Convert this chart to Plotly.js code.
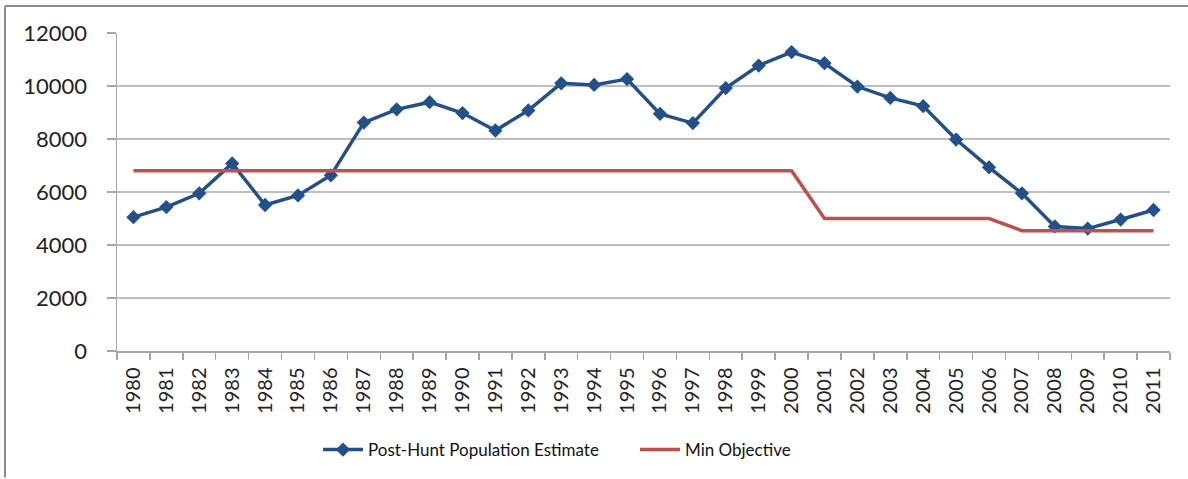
<!DOCTYPE html>
<html>
<head>
<meta charset="utf-8">
<script src="https://cdn.plot.ly/plotly-3.0.1.min.js"></script>
<style>
html,body{margin:0;padding:0;background:#fff;}
#chart{width:1188px;height:479px;}
</style>
</head>
<body>
<div id="chart"></div>
<script>
var years = ["1980","1981","1982","1983","1984","1985","1986","1987","1988","1989","1990","1991","1992","1993","1994","1995","1996","1997","1998","1999","2000","2001","2002","2003","2004","2005","2006","2007","2008","2009","2010","2011"];
var postHuntEstimate = [5050,5430,5950,7080,5510,5870,6630,8620,9120,9390,8980,8320,9080,10100,10040,10260,8950,8600,9920,10770,11280,10860,9980,9550,9240,7980,6930,5950,4700,4620,4960,5320];
var minObjective = [6800,6800,6800,6800,6800,6800,6800,6800,6800,6800,6800,6800,6800,6800,6800,6800,6800,6800,6800,6800,6800,5000,5000,5000,5000,5000,5000,4540,4540,4540,4540,4540];
var yTicks = [0,2000,4000,6000,8000,10000,12000];

var traces = [
  {
    x: years, y: postHuntEstimate, type: "scatter", mode: "lines+markers",
    name: "Post-Hunt Population Estimate",
    line: {color: "#24508A", width: 3.5},
    marker: {symbol: "diamond", size: 11, color: "#24508A"}
  },
  {
    x: years, y: minObjective, type: "scatter", mode: "lines",
    name: "Min Objective",
    line: {color: "#C0504D", width: 3.5}
  }
];

var L = 117, T = 33, W = 1053, H = 319;
function px(x){ return (x - L) / W; }
function py(y){ return 1 - (y - T) / H; }

var layout = {
  width: 1188, height: 479,
  margin: {l: L, r: 1188 - L - W, t: T, b: 479 - T - H},
  paper_bgcolor: "#ffffff", plot_bgcolor: "#ffffff",
  font: {family: "Lato, 'Liberation Sans', sans-serif", color: "#222", size: 17},
  showlegend: true,
  legend: {
    orientation: "h", x: px(318), xanchor: "left", y: py(450), yanchor: "middle",
    font: {size: 17, color: "#111"}, itemwidth: 40, entrywidth: 262, entrywidthmode: "pixels"
  },
  xaxis: {
    type: "category", tickangle: -90, tickfont: {size: 20},
    showgrid: false, showline: true, linecolor: "#A6A6A6", linewidth: 1.5,
    ticks: "outside", tickson: "boundaries", ticklen: 7, tickcolor: "#A6A6A6", tickwidth: 1.5,
    ticklabelstandoff: 7,
    range: [-0.5, 31.5], fixedrange: true
  },
  yaxis: {
    range: [0, 12000], tickvals: yTicks, ticktext: yTicks.map(String),
    tickfont: {size: 22}, showgrid: true, gridcolor: "#BFBFBF", gridwidth: 1.5,
    showline: true, linecolor: "#A6A6A6", linewidth: 1.5,
    ticks: "outside", ticklen: 9, tickcolor: "#A6A6A6", tickwidth: 1.5,
    ticklabelstandoff: 15,
    zeroline: false, fixedrange: true
  },
  shapes: [
    {type: "line", xref: "paper", yref: "paper", x0: px(5), x1: px(5), y0: py(6), y1: py(479), line: {color: "#8C8C8C", width: 2}},
    {type: "line", xref: "paper", yref: "paper", x0: px(5), x1: px(1188), y0: py(6), y1: py(6), line: {color: "#8C8C8C", width: 2}}
  ]
};

Plotly.newPlot("chart", traces, layout, {displayModeBar: false, staticPlot: true});
</script>
</body>
</html>
